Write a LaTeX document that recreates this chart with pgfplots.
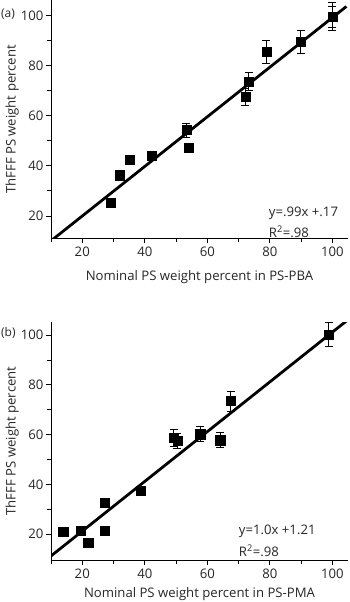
\documentclass[border=0pt]{standalone}
\usepackage{fontspec}
\setmainfont{Open Sans}
\usepackage{pgfplots}
\pgfplotsset{compat=1.18}
\definecolor{txt}{gray}{0.15}
\newcommand\fs{\fontsize{13.2}{15}\selectfont}
\pgfplotstableread{
x y ey
29.2 25.3 0
32.0 36.3 0
35.3 42.5 0
42.3 43.9 0
53.3 54.3 2.8
54.1 47.2 0
72.2 67.6 3.3
73.3 73.6 3.7
78.9 85.5 4.5
89.9 89.5 4.5
100 99.6 5.6
100 99.4 4.1
}\dataA
\pgfplotstableread{
x y ey
13.9 20.9 0
19.5 21.3 0
21.9 16.7 0
27.1 32.6 0
27.1 21.3 0
38.7 37.4 0
49.2 58.7 3.3
50.4 57.5 3.0
57.7 60.2 3.1
64.1 57.8 2.9
67.5 73.5 4.0
98.8 100.3 5.0
}\dataB
\pgfplotsset{
  myax/.style={
    scale only axis, width=297bp, height=238bp,
    axis lines=left, axis line style={-, line width=0.9pt, black},
    xmin=10, xmax=105,
    xtick={20,40,60,80,100}, minor xtick={10,30,50,70,90},
    ytick={20,40,60,80,100}, minor ytick={30,50,70,90},
    tick align=outside, major tick length=5bp, minor tick length=4bp,
    every tick/.style={line width=0.9pt, black},
    /pgf/number format/assume math mode=true,
    ticklabel style={font=\fs, text=txt},
    yticklabel style={xshift=1bp},
    every axis y label/.style={at={(axis description cs:-0.131,0.5)}, rotate=90, anchor=center, font=\fs, text=txt},
    ylabel={ThFFF PS weight percent},
    clip=true,
  },
  mypts/.style={only marks, mark=square*, mark size=4.6bp, black,
    error bars/.cd, y dir=both, y explicit,
    error bar style={line width=0.9pt, black},
    error mark options={rotate=90, mark size=4bp, line width=0.9pt, black}},
}
\begin{document}
\begin{tikzpicture}
\useasboundingbox (0,0) rectangle (350bp,602bp);
% panel (a)
\begin{axis}[myax, at={(51bp,363.5bp)}, anchor=south west,
  ymin=11, ymax=106,
  every axis x label/.style={at={(axis description cs:0.5,-0.162)}, anchor=center, font=\fs, text=txt},
  xlabel={Nominal PS weight percent in PS-PBA}]
\addplot[mypts] table[x=x, y=y, y error=ey] {\dataA};
\addplot[black, line width=2.8pt, no marks] coordinates {(10,10.07) (104.5,103.63)};
\node[anchor=west, text=txt, font=\fs] at (axis cs:78.6,21.2) {y=.99x +.17};
\node[anchor=west, text=txt, font=\fs] at (axis cs:78.6,13.7) {R\textsuperscript{2}=.98};
\end{axis}
\node[anchor=west, text=txt, font=\fontsize{12}{14}\selectfont, inner sep=0pt] at (1bp,588bp) {(a)};
% panel (b)
\begin{axis}[myax, at={(51bp,42bp)}, anchor=south west,
  ymin=9.6, ymax=105.3,
  every axis x label/.style={at={(axis description cs:0.5,-0.145)}, anchor=center, font=\fs, text=txt},
  xlabel={Nominal PS weight percent in PS-PMA}]
\addplot[mypts] table[x=x, y=y, y error=ey] {\dataB};
\addplot[black, line width=2.8pt, no marks] coordinates {(10,11.21) (104.5,105.71)};
\node[anchor=west, text=txt, font=\fs] at (axis cs:69,21.0) {y=1.0x +1.21};
\node[anchor=west, text=txt, font=\fs] at (axis cs:69,13.3) {R\textsuperscript{2}=.98};
\end{axis}
\node[anchor=west, text=txt, font=\fontsize{12}{14}\selectfont, inner sep=0pt] at (1bp,269bp) {(b)};
\end{tikzpicture}
\end{document}
